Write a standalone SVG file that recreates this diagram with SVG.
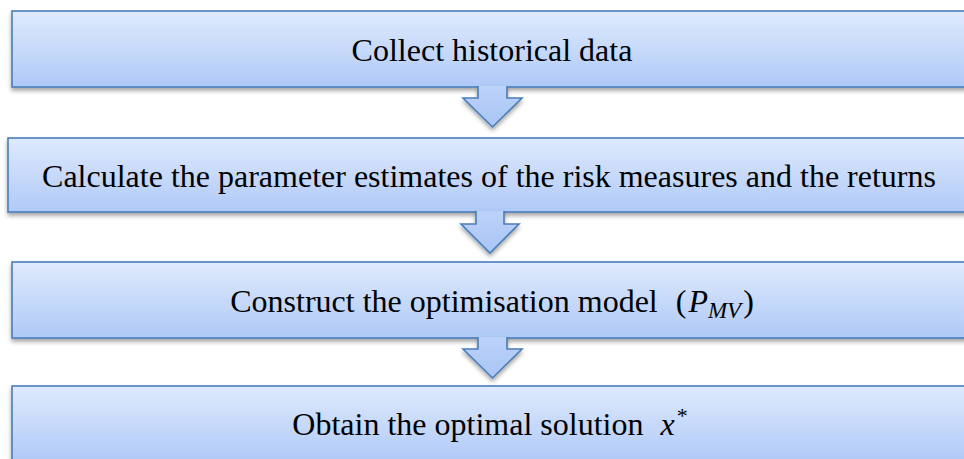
<svg xmlns="http://www.w3.org/2000/svg" width="964" height="459" viewBox="0 0 964 459">
<defs>
<linearGradient id="boxGrad" x1="0" y1="0" x2="0" y2="1">
<stop offset="0" stop-color="#dfeafd"/>
<stop offset="1" stop-color="#afc9f7"/>
</linearGradient>
<linearGradient id="arrGrad" x1="0" y1="0" x2="0" y2="1">
<stop offset="0" stop-color="#bcd2f9"/>
<stop offset="1" stop-color="#a9c5f6"/>
</linearGradient>
<filter id="shadow" x="-5%" y="-20%" width="110%" height="150%">
<feDropShadow dx="0" dy="3" stdDeviation="2" flood-color="#000" flood-opacity="0.35"/>
</filter>
</defs>
<style>
.box{fill:url(#boxGrad);stroke:#4a7ebb;stroke-width:1.6;filter:url(#shadow)}
.arr{fill:url(#arrGrad);stroke:#4a7ebb;stroke-width:1.6;stroke-linejoin:miter;filter:url(#shadow)}
.t{font-family:"Liberation Serif","Times New Roman",serif;font-size:32px;fill:#000;text-anchor:middle}
.m{font-style:italic}
</style>
<rect width="964" height="459" fill="#fff"/>
<g id="node1">
<rect class="box" x="12" y="11" width="962" height="76"/>
<text class="t" x="492" y="61">Collect historical data</text>
</g>
<g id="node2">
<rect class="box" x="8" y="138" width="966" height="74"/>
<text class="t" x="489" y="187">Calculate the parameter estimates of the risk measures and the returns</text>
</g>
<g id="node3">
<rect class="box" x="12" y="262" width="962" height="76"/>
<text class="t" x="492" y="312">Construct the optimisation model <tspan dx="10">(</tspan><tspan class="m" dx="2">P</tspan><tspan class="m" font-size="23" dy="6">MV</tspan><tspan dy="-6" dx="2">)</tspan></text>
</g>
<g id="node4">
<rect class="box" x="12" y="386" width="962" height="76"/>
<text class="t" x="490" y="435">Obtain the optimal solution <tspan class="m" dx="9">x</tspan><tspan font-size="22" dy="-12" dx="2">*</tspan></text>
</g>
<g id="connectors">
<path class="arr" d="M478,86 V98 H463 L492.5,127 L522,98 H507 V86"/>
<path class="arr" d="M476,211 V224 H461 L490,253 L519,224 H504 V211"/>
<path class="arr" d="M478,337 V349 H463 L492.5,378 L522,349 H507 V337"/>
</g>
</svg>
